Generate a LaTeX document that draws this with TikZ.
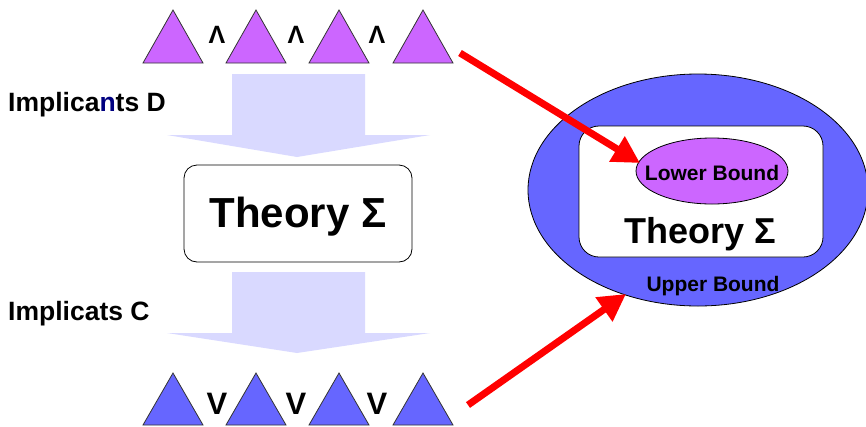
\documentclass[tikz,border=0pt]{standalone}
\usepackage{fontspec}
\setmainfont{Liberation Sans}
\usetikzlibrary{arrows.meta,shapes.geometric}
\definecolor{tripurple}{HTML}{CC66FF}
\definecolor{triblue}{HTML}{6666FF}
\definecolor{flowcol}{HTML}{D9D9FF}
\definecolor{navyn}{HTML}{000080}
\begin{document}
\begin{tikzpicture}[x=1pt,y=-1pt,
  tritop/.style={draw=black!80, line width=0.8pt, fill=tripurple, line join=miter},
  tribot/.style={draw=black!80, line width=0.8pt, fill=triblue, line join=miter},
  flowarrow/.style={fill=flowcol, draw=none},
  lbl/.style={font=\bfseries\fontsize{26.5}{30}\selectfont, inner sep=0pt},
  andsym/.style={font=\bfseries\fontsize{25}{30}\selectfont, inner sep=0pt, anchor=base},
  orsym/.style={font=\bfseries\fontsize{31}{36}\selectfont, inner sep=0pt, anchor=base},
  bigtheory/.style={font=\bfseries\fontsize{42}{48}\selectfont, inner sep=0pt, anchor=base},
  midtheory/.style={font=\bfseries\fontsize{36}{42}\selectfont, inner sep=0pt, anchor=base},
  boundtxt/.style={font=\bfseries\fontsize{21}{25}\selectfont, inner sep=0pt},
  redarrow/.style={draw=red, line width=7pt, -{Triangle[length=27pt,width=28pt]}}
]
\useasboundingbox (0,0) rectangle (866,426);

% flow arrows
\draw[flowarrow] (232,74) -- (365,74) -- (365,135) -- (430,135) -- (297,157) -- (167,135) -- (232,135) -- cycle;
\draw[flowarrow] (232,272) -- (365,272) -- (365,333) -- (430,333) -- (297,353) -- (167,333) -- (232,333) -- cycle;

% top triangles
\foreach \x in {173,256,339,423} {
  \draw[tritop] (\x-30,63) -- (\x,10) -- (\x+30,63) -- cycle;
}
\node[andsym] (and1) at (217,43) {Λ};
\node[andsym] (and2) at (296,43) {Λ};
\node[andsym] (and3) at (377,43) {Λ};

% bottom triangles
\foreach \x in {173,256,339,423} {
  \draw[tribot] (\x-30,425) -- (\x,373) -- (\x+30,425) -- cycle;
}
\node[orsym] (or1) at (217,414) {V};
\node[orsym] (or2) at (296,414) {V};
\node[orsym] (or3) at (377,414) {V};

% labels
\node[lbl, anchor=base west] (impD) at (8,111) {Implica\textcolor{navyn}{n}ts D};
\node[lbl, anchor=base west] (impC) at (8,320) {Implicats C};

% left theory box
\node[draw=black, line width=0.8pt, fill=white, rounded corners=13pt, minimum width=228pt, minimum height=97pt, inner sep=0pt] (theoryL) at (298,213.5) {};
\node[bigtheory] (theoryLtxt) at (298,227) {Theory Σ};

% right side
\node[ellipse, draw=black, line width=0.8pt, fill=triblue, minimum width=340pt, minimum height=232pt, inner sep=0pt] (ub) at (698,190) {};
\node[draw=black, line width=0.8pt, fill=white, rounded corners=20pt, minimum width=244pt, minimum height=131pt, inner sep=0pt] (inner) at (701,191.5) {};
\node[ellipse, draw=black, line width=0.8pt, fill=tripurple, minimum width=152pt, minimum height=66pt, inner sep=0pt] (lb) at (712,171) {};
\node[boundtxt, anchor=base] (lbtxt) at (712,180) {Lower Bound};
\node[midtheory] (theoryRtxt) at (700,243) {Theory Σ};
\node[boundtxt, anchor=base] (ubtxt) at (713,291) {Upper Bound};

% red arrows
\coordinate (r1s) at (460,53);
\coordinate (r1e) at (640,163);
\coordinate (r2s) at (468,405);
\coordinate (r2e) at (626,294);
\draw[redarrow] (r1s) -- (r1e);
\draw[redarrow] (r2s) -- (r2e);
\end{tikzpicture}
\end{document}
